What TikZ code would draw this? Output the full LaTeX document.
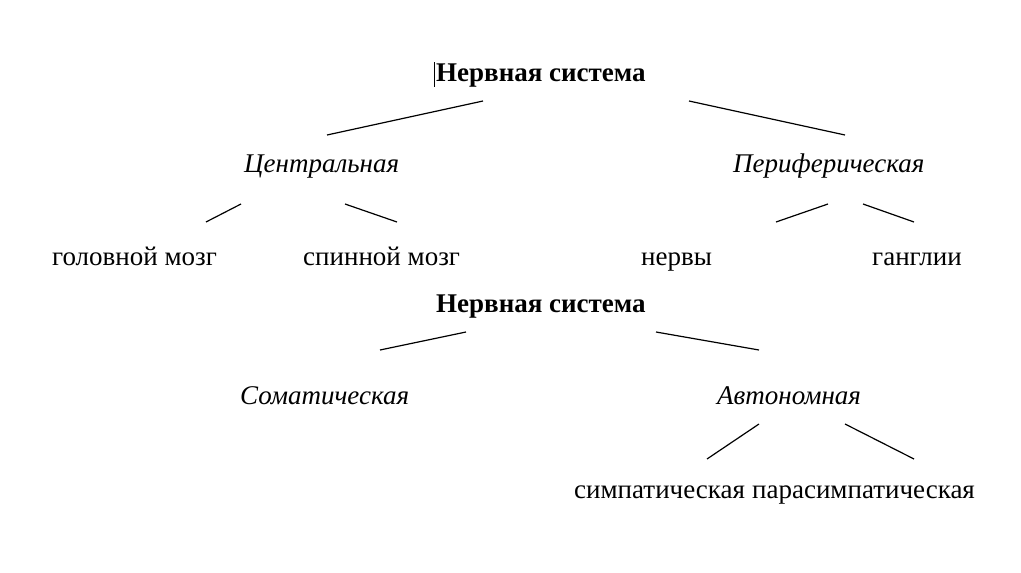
\documentclass[tikz,border=0pt]{standalone}
\usepackage{fontspec}
\setmainfont{Liberation Serif}
\begin{document}
\begin{tikzpicture}[x=1pt,y=-1pt,
  lbl/.style={anchor=base west,inner sep=0pt,font=\fontsize{27}{31}\selectfont},
  ttl/.style={lbl,font=\fontsize{27}{31}\selectfont\bfseries},
  itl/.style={lbl,font=\fontsize{27}{31}\selectfont\itshape},
  br/.style={line width=1.2pt,black}]
\useasboundingbox[fill=white] (0,0) rectangle (1021,573);
% texts
\node[ttl] (ns1) at (436,81) {Нервная система};
\node[itl] (cen) at (244,172) {Центральная};
\node[itl] (per) at (733,172) {Периферическая};
\node[lbl] (gol) at (52,265) {головной мозг};
\node[lbl] (spi) at (303,265) {спинной мозг};
\node[lbl] (ner) at (641,265) {нервы};
\node[lbl] (gan) at (872,265) {ганглии};
\node[ttl] (ns2) at (436,312) {Нервная система};
\node[itl] (som) at (240,404) {Соматическая};
\node[itl] (avt) at (717,404) {Автономная};
\node[lbl] (sim) at (574,498) {симпатическая};
\node[lbl] (par) at ([xshift=6.7pt]sim.base east) {парасимпатическая};
% cursor mark
\coordinate (cu1) at (434,62);
\coordinate (cu2) at (434,87);
\draw[line width=0.8pt] (cu1) -- (cu2);
% branch end points
\coordinate (a1) at (483,101); \coordinate (a2) at (327,135);
\coordinate (b1) at (689,101); \coordinate (b2) at (845,135);
\coordinate (c1) at (241,204); \coordinate (c2) at (206,222);
\coordinate (d1) at (345,204); \coordinate (d2) at (397,222);
\coordinate (e1) at (828,204); \coordinate (e2) at (776,222);
\coordinate (f1) at (863,204); \coordinate (f2) at (914,222);
\coordinate (g1) at (466,332); \coordinate (g2) at (380,350);
\coordinate (h1) at (656,332); \coordinate (h2) at (759,350);
\coordinate (i1) at (759,424); \coordinate (i2) at (707,459);
\coordinate (j1) at (845,424); \coordinate (j2) at (914,459);
\draw[br] (a1) -- (a2);
\draw[br] (b1) -- (b2);
\draw[br] (c1) -- (c2);
\draw[br] (d1) -- (d2);
\draw[br] (e1) -- (e2);
\draw[br] (f1) -- (f2);
\draw[br] (g1) -- (g2);
\draw[br] (h1) -- (h2);
\draw[br] (i1) -- (i2);
\draw[br] (j1) -- (j2);
\end{tikzpicture}
\end{document}
